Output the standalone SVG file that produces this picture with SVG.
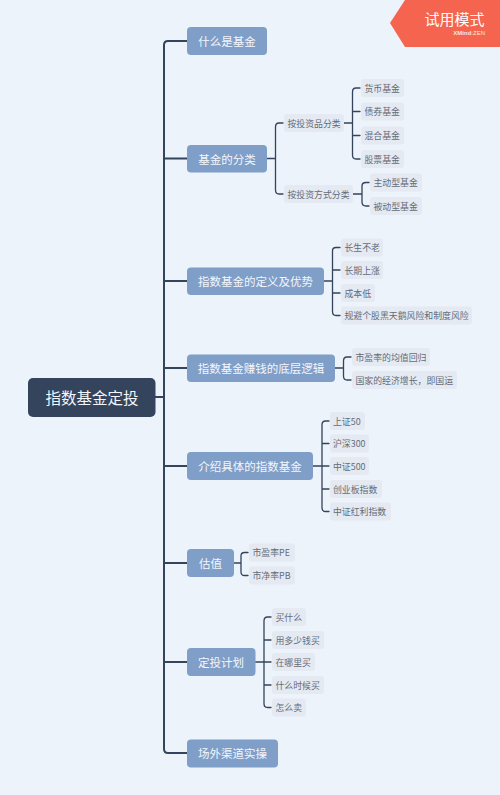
<svg xmlns="http://www.w3.org/2000/svg" width="500" height="795" viewBox="0 0 500 795">
<style>
text{font-family:"Noto Sans CJK SC","Noto Sans",sans-serif}
.t{fill:#7f9ec8}
.tt{fill:#f3f6fb;font-size:11.5px;text-anchor:middle;dominant-baseline:central}
.s{fill:#e5eaf2}
.st{fill:#636c79;font-size:8.900px;dominant-baseline:central}
.c{fill:none;stroke:#33445c;stroke-linecap:round}
</style>
<rect width="500" height="795" fill="#ecf3fa"/>
<g id="connectors">
<path class="c" stroke-width="2" d="M187 41H168Q164 41 164 45V749Q164 753 168 753H187M155 397H164M164 158.500H187M164 281H187M164 368H187M164 466H187M164 563H187M164 662H187"/>
<path class="c" stroke-width="1.300" d="M267 158.500H275.500M283 123H279Q275.500 123 275.500 127V190Q275.500 194 279 194H283"/>
<path class="c" stroke-width="1.300" d="M344 123H352.500M360 88H356Q352.500 88 352.500 92V155Q352.500 159 356 159H360M352.500 111.500H360M352.500 135.500H360"/>
<path class="c" stroke-width="1.300" d="M353 194H362M369 182.500H366Q362 182.500 362 186V202Q362 206 366 206H369"/>
<path class="c" stroke-width="1.300" d="M324 281H332.500M340 247.500H336Q332.500 247.500 332.500 251V311.500Q332.500 315.500 336 315.500H340M332.500 270H340M332.500 293H340"/>
<path class="c" stroke-width="1.300" d="M335 368H343.500M351 357H347Q343.500 357 343.500 361V376Q343.500 380 347 380H351"/>
<path class="c" stroke-width="1.300" d="M313 466H322M329 421H325.500Q322 421 322 425V507.500Q322 511.500 325.500 511.500H329M322 443.500H329M322 466H329M322 489H329"/>
<path class="c" stroke-width="1.300" d="M234 563H241M248 552.500H244.500Q241 552.500 241 556V572Q241 575.500 244.500 575.500H248"/>
<path class="c" stroke-width="1.300" d="M255.500 662H271M271 617H267.500Q264 617 264 621V703.500Q264 707.500 267.500 707.500H271M264 640H271M264 685H271"/>
</g>
<g id="root"><rect x="28" y="378" width="127.500" height="39" rx="5" fill="#33445c"/><text x="92" y="397" font-size="15.500" fill="#f3f6fb" text-anchor="middle" dominant-baseline="central">指数基金定投</text></g>
<g id="t1"><rect class="t" x="187" y="27" width="80" height="28" rx="4"/><text class="tt" x="227" y="41">什么是基金</text></g>
<g id="t2"><rect class="t" x="187" y="145" width="80" height="27.500" rx="4"/><text class="tt" x="227" y="158.500">基金的分类</text></g>
<g id="t3"><rect class="t" x="187" y="267.500" width="137" height="27.500" rx="4"/><text class="tt" x="255.500" y="281">指数基金的定义及优势</text></g>
<g id="t4"><rect class="t" x="187" y="354.500" width="148" height="27.500" rx="4"/><text class="tt" x="261" y="368">指数基金赚钱的底层逻辑</text></g>
<g id="t5"><rect class="t" x="187" y="452" width="126" height="28" rx="4"/><text class="tt" x="250" y="466">介绍具体的指数基金</text></g>
<g id="t6"><rect class="t" x="187" y="549" width="47" height="28" rx="4"/><text class="tt" x="210.500" y="563">估值</text></g>
<g id="t7"><rect class="t" x="187" y="648" width="68.500" height="28" rx="4"/><text class="tt" x="221" y="662">定投计划</text></g>
<g id="t8"><rect class="t" x="187" y="739.500" width="91" height="28" rx="4"/><text class="tt" x="232.500" y="753">场外渠道实操</text></g>
<g id="n1"><rect class="s" x="284" y="114" width="60" height="18" rx="3"/><text class="st" x="287.500" y="123">按投资品分类</text></g>
<g id="n2"><rect class="s" x="284" y="185" width="69" height="18" rx="3"/><text class="st" x="287.500" y="194">按投资方式分类</text></g>
<g id="n3"><rect class="s" x="361" y="79" width="43" height="18" rx="3"/><text class="st" x="364.500" y="88">货币基金</text></g>
<g id="n4"><rect class="s" x="361" y="102.500" width="43" height="18" rx="3"/><text class="st" x="364.500" y="111.500">债券基金</text></g>
<g id="n5"><rect class="s" x="361" y="126.500" width="43" height="18" rx="3"/><text class="st" x="364.500" y="135.500">混合基金</text></g>
<g id="n6"><rect class="s" x="361" y="150" width="43" height="18" rx="3"/><text class="st" x="364.500" y="159">股票基金</text></g>
<g id="n7"><rect class="s" x="370" y="173.500" width="52" height="18" rx="3"/><text class="st" x="373.500" y="182.500">主动型基金</text></g>
<g id="n8"><rect class="s" x="370" y="197" width="52" height="18" rx="3"/><text class="st" x="373.500" y="206">被动型基金</text></g>
<g id="n9"><rect class="s" x="341" y="238.500" width="42" height="18" rx="3"/><text class="st" x="344.500" y="247.500">长生不老</text></g>
<g id="n10"><rect class="s" x="341" y="261" width="42" height="18" rx="3"/><text class="st" x="344.500" y="270">长期上涨</text></g>
<g id="n11"><rect class="s" x="341" y="284" width="34" height="18" rx="3"/><text class="st" x="344.500" y="293">成本低</text></g>
<g id="n12"><rect class="s" x="341" y="306.500" width="131" height="18" rx="3"/><text class="st" x="344.500" y="315.500">规避个股黑天鹅风险和制度风险</text></g>
<g id="n13"><rect class="s" x="352" y="348" width="78" height="18" rx="3"/><text class="st" x="355.500" y="357">市盈率的均值回归</text></g>
<g id="n14"><rect class="s" x="352" y="371" width="105" height="18" rx="3"/><text class="st" x="355.500" y="380">国家的经济增长&#xFF0C;即国运</text></g>
<g id="n15"><rect class="s" x="330" y="412" width="35" height="18" rx="3"/><text class="st" x="333" y="421">上证50</text></g>
<g id="n16"><rect class="s" x="330" y="434.500" width="39" height="18" rx="3"/><text class="st" x="333" y="443.500">沪深300</text></g>
<g id="n17"><rect class="s" x="330" y="457" width="39" height="18" rx="3"/><text class="st" x="333" y="466">中证500</text></g>
<g id="n18"><rect class="s" x="330" y="480" width="52" height="18" rx="3"/><text class="st" x="333" y="489">创业板指数</text></g>
<g id="n19"><rect class="s" x="330" y="502.500" width="61" height="18" rx="3"/><text class="st" x="333" y="511.500">中证红利指数</text></g>
<g id="n20"><rect class="s" x="249" y="543.500" width="46" height="18" rx="3"/><text class="st" x="252.500" y="552.500">市盈率PE</text></g>
<g id="n21"><rect class="s" x="249" y="566.500" width="46" height="18" rx="3"/><text class="st" x="252.500" y="575.500">市净率PB</text></g>
<g id="n22"><rect class="s" x="272" y="608" width="34" height="18" rx="3"/><text class="st" x="275.500" y="617">买什么</text></g>
<g id="n23"><rect class="s" x="272" y="631" width="52" height="18" rx="3"/><text class="st" x="275.500" y="640">用多少钱买</text></g>
<g id="n24"><rect class="s" x="272" y="653" width="43" height="18" rx="3"/><text class="st" x="275.500" y="662">在哪里买</text></g>
<g id="n25"><rect class="s" x="272" y="676" width="52" height="18" rx="3"/><text class="st" x="275.500" y="685">什么时候买</text></g>
<g id="n26"><rect class="s" x="272" y="698.500" width="34" height="18" rx="3"/><text class="st" x="275.500" y="707.500">怎么卖</text></g>
<g id="badge"><polygon points="405,0 500,0 500,47 405,47 390,23" fill="#f4644f"/><text x="454.500" y="18.500" font-size="15" fill="#fff" text-anchor="middle" dominant-baseline="central">试用模式</text><text x="485" y="35" font-size="6" fill="#fbe4df" text-anchor="end" style="font-family:'Liberation Sans',sans-serif"><tspan font-weight="700">XMind</tspan>:ZEN</text></g>
</svg>
